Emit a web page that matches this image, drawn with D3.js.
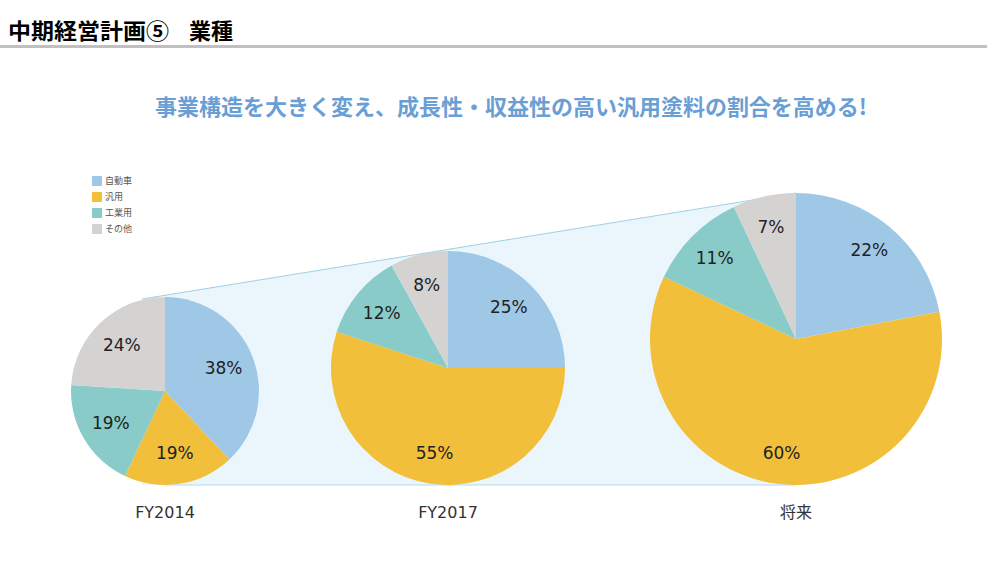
<!DOCTYPE html>
<html>
<head>
<meta charset="utf-8">
<script src="https://cdn.jsdelivr.net/npm/d3@7"></script>
<style>
  body { margin: 0; background: #fff; }
  svg { display: block; }
</style>
</head>
<body>
<svg id="chart"></svg>
<script>
const categories = ['自動車', '汎用', '工業用', 'その他']
const periods = ['FY2014', 'FY2017', '将来']
const fy2014 = [38, 19, 19, 24]
const fy2017 = [25, 55, 12, 8]
const future = [22, 60, 11, 7]
const seriesValues = [fy2014, fy2017, future]

const width = 987
const height = 567

const colors = d3.scaleOrdinal().domain(categories)
  .range(['#9fc8e7', '#f2bf3a', '#89cbc8', '#d4d3d2'])

const svg = d3.select('#chart').attr('width', width).attr('height', height)

// header
const headFont = '"Noto Sans CJK JP", sans-serif'
svg.append('text')
  .attr('x', 8).attr('y', 39)
  .attr('font-family', headFont)
  .attr('font-weight', 'bold')
  .attr('font-size', 22)
  .attr('textLength', 161)
  .attr('lengthAdjust', 'spacingAndGlyphs')
  .attr('fill', '#000')
  .text('中期経営計画⑤')
svg.append('text')
  .attr('x', 189).attr('y', 39)
  .attr('font-family', headFont)
  .attr('font-weight', 'bold')
  .attr('font-size', 22)
  .attr('textLength', 44)
  .attr('lengthAdjust', 'spacingAndGlyphs')
  .attr('fill', '#000')
  .text('業種')

svg.append('rect')
  .attr('x', 0).attr('y', 45).attr('width', width).attr('height', 3)
  .attr('fill', '#c0c0c0')

svg.append('text')
  .attr('x', 155).attr('y', 115)
  .attr('font-family', headFont)
  .attr('font-weight', 'bold')
  .attr('font-size', 22)
  .attr('textLength', 712)
  .attr('lengthAdjust', 'spacingAndGlyphs')
  .attr('fill', '#6a9fd6')
  .text('事業構造を大きく変え、成長性・収益性の高い汎用塗料の割合を高める!')

// pie layout: radius grows with period, all pies stand on one baseline
const baseline = 485
const x = d3.scaleOrdinal().domain(periods).range([165, 448, 796])
const r = d3.scaleOrdinal().domain(periods).range([94, 117, 146])
const cy = (p) => baseline - r(p)

// light blue band behind the pies
const first = periods[0], last = periods[periods.length - 1]
const bandTop = [[x(first) - 23, cy(first) - r(first) + 2], [x(last), cy(last) - r(last)]]
svg.append('path')
  .attr('d', d3.line()([
    bandTop[0], bandTop[1], [x(last), baseline], [bandTop[0][0], baseline],
  ]) + 'Z')
  .attr('fill', '#eaf6fb')
svg.append('path')
  .attr('d', d3.line()(bandTop))
  .attr('stroke', '#9fd0e4').attr('stroke-width', 1).attr('fill', 'none')
svg.append('line')
  .attr('x1', x(first)).attr('x2', x(last))
  .attr('y1', baseline).attr('y2', baseline)
  .attr('stroke', '#b5dbea').attr('stroke-width', 1)

const pie = d3.pie().sort(null).value((d) => d)

periods.forEach((p, i) => {
  const radius = r(p)
  const g = svg.append('g').attr('transform', `translate(${x(p)},${cy(p)})`)
  const arc = d3.arc().innerRadius(0).outerRadius(radius)
  const labelArc = d3.arc().innerRadius(radius - 31).outerRadius(radius - 31)
  const arcs = pie(seriesValues[i])

  g.selectAll('path')
    .data(arcs)
    .join('path')
    .attr('d', arc)
    .attr('fill', (d, j) => colors(categories[j]))

  g.selectAll('text')
    .data(arcs)
    .join('text')
    .attr('transform', (d) => `translate(${labelArc.centroid(d)})`)
    .attr('text-anchor', 'middle')
    .attr('dy', '0.35em')
    .attr('font-family', '"DejaVu Sans", sans-serif')
    .attr('font-size', 17)
    .attr('fill', '#222')
    .text((d) => d.data + '%')

  svg.append('text')
    .attr('x', x(p)).attr('y', 518)
    .attr('text-anchor', 'middle')
    .attr('font-family', '"DejaVu Sans", "Noto Sans CJK JP", sans-serif')
    .attr('font-size', 16)
    .attr('fill', '#333')
    .text(p)
})

// legend
const legend = svg.append('g').attr('transform', 'translate(92,176)')
const item = legend.selectAll('g')
  .data(categories)
  .join('g')
  .attr('transform', (d, i) => `translate(0,${i * 16})`)
item.append('rect')
  .attr('width', 10).attr('height', 10)
  .attr('fill', (d) => colors(d))
item.append('text')
  .attr('x', 13).attr('y', 5).attr('dy', '0.35em')
  .attr('font-family', '"Noto Sans CJK JP", sans-serif')
  .attr('font-size', 9)
  .attr('fill', '#555')
  .text((d) => d)
</script>
</body>
</html>
